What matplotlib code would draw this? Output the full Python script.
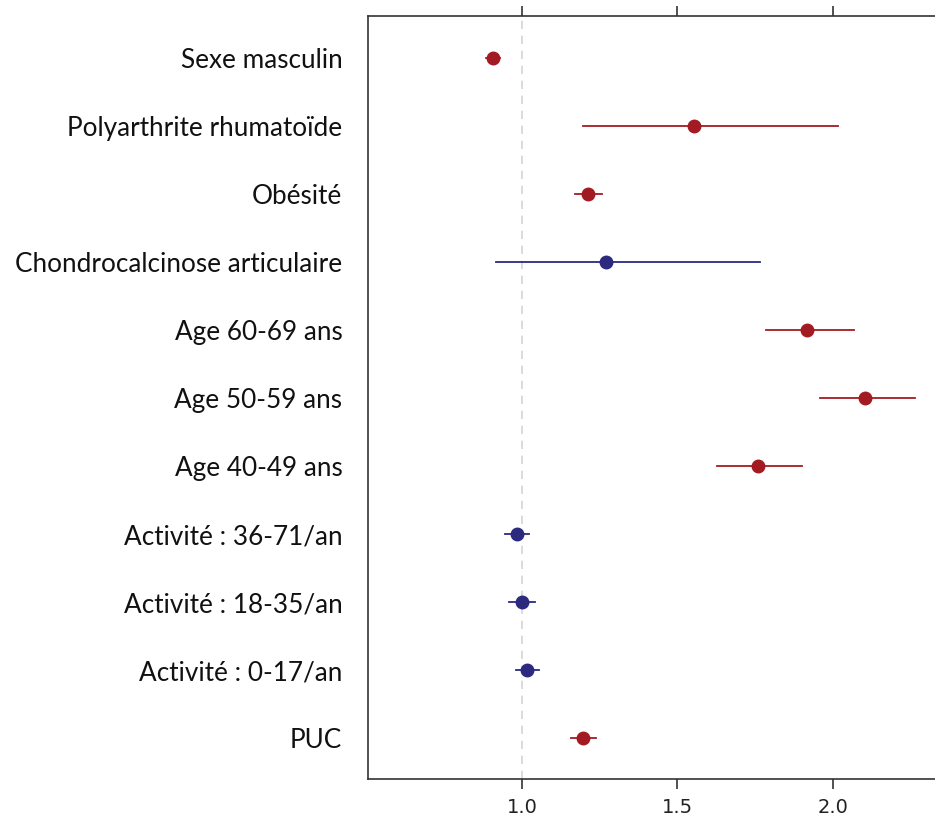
import matplotlib.pyplot as plt

labels = ["Sexe masculin", "Polyarthrite rhumatoïde", "Obésité",
          "Chondrocalcinose articulaire", "Age 60-69 ans", "Age 50-59 ans",
          "Age 40-49 ans", "Activité : 36-71/an", "Activité : 18-35/an",
          "Activité : 0-17/an", "PUC"]
estimate = [0.906, 1.555, 1.213, 1.271, 1.919, 2.106, 1.761, 0.984, 0.999, 1.016, 1.197]
ci_low = [0.884, 1.197, 1.171, 0.916, 1.784, 1.961, 1.629, 0.945, 0.958, 0.981, 1.158]
ci_high = [0.929, 2.016, 1.258, 1.765, 2.068, 2.265, 1.900, 1.023, 1.042, 1.055, 1.239]
significant = [True, True, True, False, True, True, True, False, False, False, True]

red = "#a31b22"
blue = "#2b2a7e"

fig = plt.figure(figsize=(9.35, 8.18), dpi=100)
ax = fig.add_axes([368 / 935, 1 - 779 / 818, 1 - 368 / 935, (779 - 16) / 818])

ax.axvline(1.0, color="#d4d4d4", linestyle=(0, (5, 4)), linewidth=1.2, zorder=0)

for i, lab in enumerate(labels):
    c = red if significant[i] else blue
    ax.plot([ci_low[i], ci_high[i]], [i, i], color=c, linewidth=1.3)
    ax.plot(estimate[i], i, "o", color=c, markersize=9)

ax.set_xlim(0.503, 2.33)
ax.set_ylim(len(labels) - 0.4, -0.62)
ax.set_xticks([1.0, 1.5, 2.0])
ax.set_xticklabels(["1.0", "1.5", "2.0"])
ax.set_yticks(range(len(labels)))
ax.set_yticklabels(labels, fontsize=18.8, family="Lato", color="#111111")
ax.tick_params(axis="y", length=0, pad=18.5)
ax.tick_params(axis="x", which="both", top=True, direction="out", length=7,
               width=1.2, color="#333333", labelsize=14, labelcolor="#222222", pad=7)
for s in ["left", "top", "bottom"]:
    ax.spines[s].set_color("#333333")
    ax.spines[s].set_linewidth(1.2)
ax.spines["right"].set_visible(False)

fig.savefig("out.png", dpi=100)
